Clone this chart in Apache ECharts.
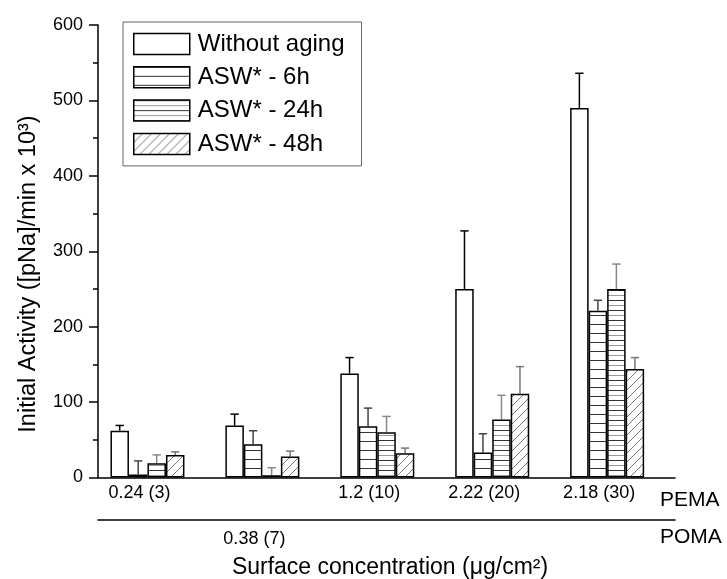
<!DOCTYPE html>
<html>
<head>
<meta charset="utf-8">
<script src="https://cdn.jsdelivr.net/npm/echarts@6/dist/echarts.min.js"></script>
<style>html,body{margin:0;padding:0;background:#fff;}#c{width:727px;height:579px;}</style>
</head>
<body>
<div id="c"></div>
<script>
// ---- data ----
const pemaLabels = ['0.24 (3)', '', '1.2 (10)', '2.22 (20)', '2.18 (30)'];
const pomaLabels = ['', '0.38 (7)', '', '', ''];
const seriesNames = ['Without aging', 'ASW* - 6h', 'ASW* - 24h', 'ASW* - 48h'];
const withoutAging = [62, 69, 138, 250, 490];
const withoutAgingErr = [7, 15, 21, 77, 46];
const asw6h = [4, 44, 68, 33, 221];
const asw6hErr = [18, 18, 24, 25, 14];
const asw24h = [19, 3, 60, 77, 250];
const asw24hErr = [11, 10, 21, 32, 33];
const asw48h = [30, 28, 32, 111, 144];
const asw48hErr = [4, 7, 7, 36, 15];
const yTicks = [0, 100, 200, 300, 400, 500, 600];

const FONT = 'Liberation Sans, Arial, sans-serif';
const BAR_FRAC = 0.161;

function makePattern(type) {
  const c = document.createElement('canvas');
  const ctx = c.getContext('2d');
  if (type === 'h6') {
    c.width = 9; c.height = 9;
    ctx.fillStyle = '#fff'; ctx.fillRect(0, 0, 9, 9);
    ctx.strokeStyle = '#333'; ctx.lineWidth = 1;
    ctx.beginPath(); ctx.moveTo(0, 0.5); ctx.lineTo(9, 0.5); ctx.stroke();
  } else if (type === 'h24') {
    c.width = 10; c.height = 10;
    ctx.fillStyle = '#fff'; ctx.fillRect(0, 0, 10, 10);
    ctx.lineWidth = 1;
    ctx.strokeStyle = '#333';
    ctx.beginPath(); ctx.moveTo(0, 0.5); ctx.lineTo(10, 0.5); ctx.stroke();
    ctx.strokeStyle = '#999';
    ctx.beginPath(); ctx.moveTo(0, 5.5); ctx.lineTo(10, 5.5); ctx.stroke();
  } else if (type === 'd48') {
    c.width = 9; c.height = 9;
    ctx.fillStyle = '#fff'; ctx.fillRect(0, 0, 9, 9);
    ctx.strokeStyle = '#777'; ctx.lineWidth = 1;
    ctx.beginPath();
    ctx.moveTo(0, 9); ctx.lineTo(9, 0);
    ctx.moveTo(-1, 1); ctx.lineTo(1, -1);
    ctx.moveTo(8, 10); ctx.lineTo(10, 8);
    ctx.stroke();
  }
  return { image: c, repeat: 'repeat' };
}

const fills = ['#fff', makePattern('h6'), makePattern('h24'), makePattern('d48')];
const values = [withoutAging, asw6h, asw24h, asw48h];
const errs = [withoutAgingErr, asw6hErr, asw24hErr, asw48hErr];
const errColors = ['#000', '#444', '#888', '#777'];

const series = [];
values.forEach((vals, k) => {
  series.push({
    name: seriesNames[k],
    type: 'bar',
    xAxisIndex: 2, yAxisIndex: 1,
    barWidth: (BAR_FRAC * 100) + '%',
    barGap: '0%',
    data: vals,
    itemStyle: { color: fills[k], borderColor: '#000', borderWidth: 1.5 },
    emphasis: { disabled: true },
    silent: true,
    z: 3
  });
});
values.forEach((vals, k) => {
  series.push({
    type: 'custom',
    xAxisIndex: 2, yAxisIndex: 1,
    silent: true,
    z: 2,
    data: vals.map((v, i) => [i, v, errs[k][i]]),
    renderItem: function (params, api) {
      const cat = api.value(0), v = api.value(1), e = api.value(2);
      const band = api.size([1, 0])[0];
      const bw = band * BAR_FRAC;
      const base = api.coord([cat, v]);
      const top = api.coord([cat, v + e]);
      const x = base[0] + (k - 1.5) * bw;
      const cap = bw * 0.45;
      const st = { stroke: errColors[k], lineWidth: 1.5 };
      return {
        type: 'group',
        children: [
          { type: 'line', shape: { x1: x, y1: base[1], x2: x, y2: top[1] }, style: st },
          { type: 'line', shape: { x1: x - cap / 2, y1: top[1], x2: x + cap / 2, y2: top[1] }, style: st }
        ]
      };
    }
  });
});

const chart = echarts.init(document.getElementById('c'), null, { renderer: 'canvas' });
chart.setOption({
  animation: false,
  backgroundColor: '#fff',
  grid: [
    { left: 98, right: 52, top: 25, bottom: 101.5 },
    { left: 90, right: 62.4, top: 25, bottom: 101.5 }
  ],
  xAxis: [
    { gridIndex: 0, type: 'value', min: 0, max: 1, axisLine: { show: true, onZero: false, lineStyle: { color: '#000', width: 1.5 } },
      axisTick: { show: false }, axisLabel: { show: false }, splitLine: { show: false } },
    { gridIndex: 0, type: 'value', min: 0, max: 1, position: 'bottom', offset: 42,
      axisLine: { show: true, onZero: false, lineStyle: { color: '#000', width: 1.5 } },
      axisTick: { show: false }, axisLabel: { show: false }, splitLine: { show: false } },
    { gridIndex: 1, type: 'category', data: pemaLabels, position: 'bottom',
      axisLine: { show: false }, axisTick: { show: false }, splitLine: { show: false },
      axisLabel: { interval: 0, margin: 7, color: '#000', fontSize: 18, fontFamily: FONT, padding: [0, 16, 0, 0] } },
    { gridIndex: 1, type: 'category', data: pomaLabels, position: 'bottom', offset: 46,
      axisLine: { show: false }, axisTick: { show: false }, splitLine: { show: false },
      axisLabel: { interval: 0, margin: 7, color: '#000', fontSize: 18, fontFamily: FONT, padding: [0, 16, 0, 0] } }
  ],
  yAxis: [
    { gridIndex: 0, type: 'value', min: yTicks[0], max: yTicks[yTicks.length - 1], interval: 100,
      axisLine: { show: true, lineStyle: { color: '#000', width: 1.5 } },
      axisTick: { show: true, length: 9, lineStyle: { color: '#000', width: 1.5 } },
      minorTick: { show: true, splitNumber: 2, length: 5, lineStyle: { color: '#000', width: 1.5 } },
      axisLabel: { margin: 15, color: '#000', fontSize: 18, fontFamily: FONT },
      splitLine: { show: false } },
    { gridIndex: 1, type: 'value', min: yTicks[0], max: yTicks[yTicks.length - 1], show: false, splitLine: { show: false } }
  ],
  legend: {
    left: 123, top: 22,
    orient: 'vertical',
    padding: [10, 17, 10, 10],
    borderColor: '#666', borderWidth: 1,
    backgroundColor: '#fff',
    itemWidth: 56, itemHeight: 21, itemGap: 9.3,
    selectedMode: false,
    icon: 'rect',
    textStyle: { fontSize: 24, fontFamily: FONT, color: '#000', lineHeight: 21, padding: [0, 0, 0, 3] },
    data: seriesNames.map((n, k) => ({ name: n, icon: 'rect', itemStyle: { color: fills[k], borderColor: '#000', borderWidth: 1.5 } }))
  },
  graphic: [
    { type: 'text', left: 660, top: 490, style: { text: 'PEMA', font: '21px ' + FONT, fill: '#000' } },
    { type: 'text', left: 660, top: 527, style: { text: 'POMA', font: '21px ' + FONT, fill: '#000' } },
    { type: 'text', x: 390, y: 568, style: { text: 'Surface concentration (μg/cm²)', font: '23px ' + FONT, fill: '#000', align: 'center', verticalAlign: 'middle' } },
    { type: 'text', x: 28.5, y: 274, rotation: Math.PI / 2, style: { text: 'Initial Activity ([pNa]/min x 10³)', font: '23.5px ' + FONT, fill: '#000', align: 'center', verticalAlign: 'middle' } }
  ],
  series: series
});
</script>
</body>
</html>
